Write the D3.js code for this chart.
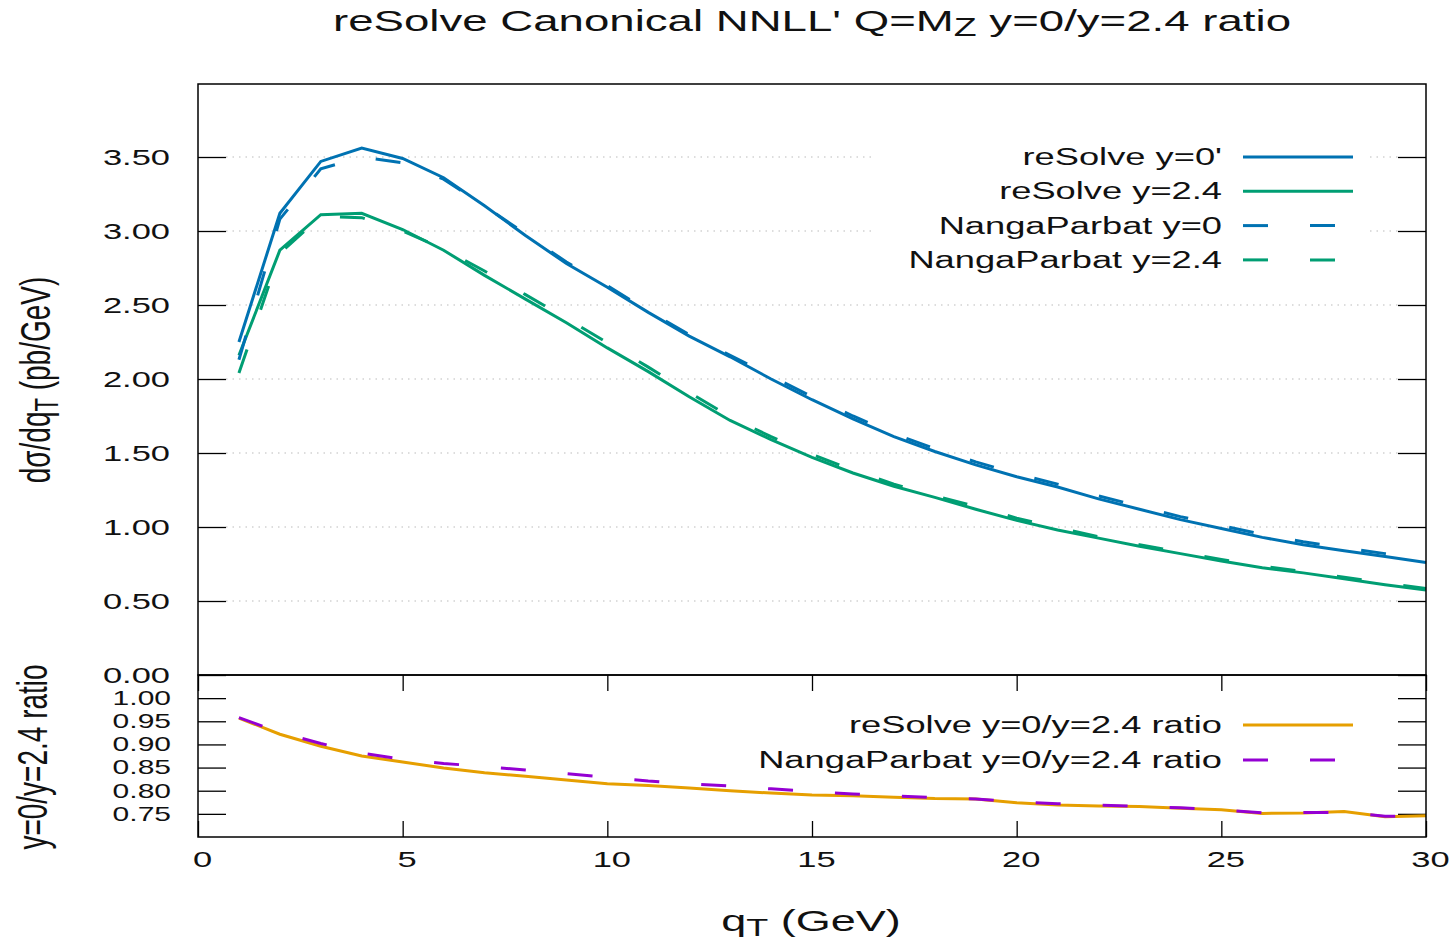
<!DOCTYPE html>
<html>
<head>
<meta charset="utf-8">
<script src="https://cdn.jsdelivr.net/npm/d3@7"></script>
<style>
  body { margin: 0; background: #fff; }
  text { font-family: "Liberation Sans", Arial, sans-serif; fill: #111; }
</style>
</head>
<body>
<div id="chart"></div>
<script>
// qT grid (GeV)
const qT = d3.range(1, 31);

// dσ/dqT (pb/GeV)
const resolveY0 = [2.25, 3.12, 3.47, 3.56, 3.49, 3.36, 3.17, 2.97, 2.78, 2.62,
                   2.45, 2.29, 2.15, 2.00, 1.86, 1.73, 1.61, 1.51, 1.42, 1.34,
                   1.27, 1.19, 1.12, 1.05, 0.99, 0.93, 0.88, 0.84, 0.80, 0.76];
const resolveY24 = [2.16, 2.87, 3.11, 3.12, 3.01, 2.87, 2.70, 2.54, 2.38, 2.21,
                    2.05, 1.88, 1.72, 1.59, 1.47, 1.365, 1.275, 1.20, 1.12, 1.045,
                    0.98, 0.925, 0.87, 0.82, 0.77, 0.725, 0.69, 0.65, 0.61, 0.575];
const npY0 = [2.13, 3.08, 3.42, 3.50, 3.46, 3.35, 3.17, 2.98, 2.79, 2.63,
              2.46, 2.30, 2.16, 2.02, 1.88, 1.75, 1.63, 1.53, 1.44, 1.36,
              1.29, 1.21, 1.14, 1.07, 1.01, 0.95, 0.90, 0.86, 0.82, 0.78];
const npY24 = [2.04, 2.85, 3.10, 3.09, 3.00, 2.88, 2.73, 2.57, 2.41, 2.245,
               2.08, 1.91, 1.745, 1.61, 1.49, 1.385, 1.29, 1.21, 1.14, 1.06,
               0.995, 0.935, 0.88, 0.83, 0.78, 0.735, 0.70, 0.66, 0.62, 0.585];

// y=0 / y=2.4 ratio
const resolveRatio = [0.957, 0.922, 0.896, 0.875, 0.862, 0.849, 0.839, 0.831, 0.823, 0.815,
                      0.811, 0.806, 0.800, 0.795, 0.791, 0.789, 0.786, 0.783, 0.782, 0.774,
                      0.769, 0.767, 0.766, 0.762, 0.759, 0.751, 0.752, 0.755, 0.744, 0.746];
const npRatio = [0.958, 0.926, 0.902, 0.881, 0.868, 0.859, 0.852, 0.845, 0.837, 0.829,
                 0.821, 0.815, 0.810, 0.804, 0.798, 0.793, 0.789, 0.785, 0.782, 0.776,
                 0.772, 0.769, 0.766, 0.763, 0.759, 0.752, 0.753, 0.753, 0.745, 0.745];

const topTicks = [0, 0.5, 1, 1.5, 2, 2.5, 3, 3.5];
const ratioTicks = [0.75, 0.80, 0.85, 0.90, 0.95, 1.00];
const xTicks = [0, 5, 10, 15, 20, 25, 30];

const topSeries = [
  { name: "reSolve y=0'", values: resolveY0, color: "#0072b2", dash: null },
  { name: "reSolve y=2.4", values: resolveY24, color: "#009e73", dash: null },
  { name: "NangaParbat y=0", values: npY0, color: "#0072b2", dash: "25,42" },
  { name: "NangaParbat y=2.4", values: npY24, color: "#009e73", dash: "25,42" }
];
const ratioSeries = [
  { name: "reSolve y=0/y=2.4 ratio", values: resolveRatio, color: "#e69f00", dash: null },
  { name: "NangaParbat y=0/y=2.4 ratio", values: npRatio, color: "#9400d3", dash: "25,42" }
];

const W = 1453, H = 940;
const SX = 1.5; // the reference text is stretched sideways
const L = 198, R = 1426, T = 84, MID = 675, B = 837;

const svg = d3.select("#chart").append("svg")
  .attr("width", W).attr("height", H);
svg.append("rect").attr("width", W).attr("height", H).attr("fill", "#fff");

const x = d3.scaleLinear().domain([0, 30]).range([L, R]);
const yTop = d3.scaleLinear().domain([0, 4]).range([MID, 83]);
const yRat = d3.scaleLinear().domain([0.70, 1.05]).range([B, MID]);

function stretched(g, px, py, anchor, size) {
  return g.append("text")
    .attr("transform", `translate(${px},${py}) scale(${SX},1)`)
    .attr("text-anchor", anchor)
    .attr("font-size", size);
}

// grid in top panel
svg.append("g").selectAll("line")
  .data(topTicks.filter(d => d > 0))
  .enter().append("line")
  .attr("x1", L + 28).attr("x2", R - 28)
  .attr("y1", d => yTop(d)).attr("y2", d => yTop(d))
  .attr("stroke", "#bbb").attr("stroke-width", 1)
  .attr("stroke-dasharray", "1.5,5");

// y axes, top panel
const gTopL = svg.append("g").attr("transform", `translate(${L},0)`)
  .call(d3.axisLeft(yTop).tickValues(topTicks).tickSize(-28).tickFormat(d3.format(".2f")));
gTopL.selectAll(".tick text").attr("x", null)
  .attr("transform", `translate(-28,0) scale(${SX},1)`).attr("font-size", 23);
svg.append("g").attr("transform", `translate(${R},0)`)
  .call(d3.axisRight(yTop).tickValues(topTicks).tickSize(-28).tickFormat(""));

// y axes, ratio panel
const gRatL = svg.append("g").attr("transform", `translate(${L},0)`)
  .call(d3.axisLeft(yRat).tickValues(ratioTicks).tickSize(-28).tickFormat(d3.format(".2f")));
gRatL.selectAll(".tick text").attr("x", null)
  .attr("transform", `translate(-27,0) scale(${SX},1)`).attr("font-size", 20);
svg.append("g").attr("transform", `translate(${R},0)`)
  .call(d3.axisRight(yRat).tickValues(ratioTicks).tickSize(-28).tickFormat(""));

// x axes on the ratio panel
const gXB = svg.append("g").attr("transform", `translate(0,${B})`)
  .call(d3.axisBottom(x).tickValues(xTicks).tickSize(-16).tickFormat(d3.format("d")));
gXB.selectAll(".tick text").attr("y", null).attr("dy", null)
  .attr("transform", `translate(4,30) scale(${SX},1)`).attr("font-size", 23);
svg.append("g").attr("transform", `translate(0,${MID})`)
  .call(d3.axisTop(x).tickValues(xTicks).tickSize(-16).tickFormat(""));

svg.selectAll(".domain").remove();
svg.selectAll(".tick line").attr("stroke", "#000").attr("stroke-width", 1.3);
svg.selectAll(".tick text").attr("font-family", null).attr("fill", "#111");

// curves
const lineTop = d3.line().x((d, i) => x(qT[i])).y(d => yTop(d));
const lineRat = d3.line().x((d, i) => x(qT[i])).y(d => yRat(d));

svg.append("g").selectAll("path")
  .data(topSeries)
  .enter().append("path")
  .attr("d", d => lineTop(d.values))
  .attr("fill", "none")
  .attr("stroke", d => d.color)
  .attr("stroke-width", 3)
  .attr("stroke-dasharray", d => d.dash);

svg.append("g").selectAll("path")
  .data(ratioSeries)
  .enter().append("path")
  .attr("d", d => lineRat(d.values))
  .attr("fill", "none")
  .attr("stroke", d => d.color)
  .attr("stroke-width", 3)
  .attr("stroke-dasharray", d => d.dash);

// legend, top panel (opaque key)
svg.append("rect").attr("x", 872).attr("y", 139).attr("width", 494).attr("height", 137)
  .attr("fill", "#fff");
const legTop = svg.append("g");
topSeries.forEach((s, i) => {
  const ly = 157 + i * 34.3;
  stretched(legTop, 1222, ly + 8, "end", 24.2).text(s.name);
  legTop.append("line").attr("x1", 1243).attr("x2", 1353).attr("y1", ly).attr("y2", ly)
    .attr("stroke", s.color).attr("stroke-width", 3).attr("stroke-dasharray", s.dash);
});

const legRat = svg.append("g");
ratioSeries.forEach((s, i) => {
  const ly = 725 + i * 35;
  stretched(legRat, 1222, ly + 8, "end", 24.2).text(s.name);
  legRat.append("line").attr("x1", 1243).attr("x2", 1353).attr("y1", ly).attr("y2", ly)
    .attr("stroke", s.color).attr("stroke-width", 3).attr("stroke-dasharray", s.dash);
});

// frames
svg.append("rect").attr("x", L).attr("y", T).attr("width", R - L).attr("height", MID - T)
  .attr("fill", "none").attr("stroke", "#000").attr("stroke-width", 1.5);
svg.append("rect").attr("x", L).attr("y", MID).attr("width", R - L).attr("height", B - MID)
  .attr("fill", "none").attr("stroke", "#000").attr("stroke-width", 1.5);

// title
const title = stretched(svg, 812, 31, "middle", 30.4);
title.append("tspan").text("reSolve Canonical NNLL' Q=M");
title.append("tspan").attr("font-size", 25).attr("dy", 5).text("Z");
title.append("tspan").attr("dy", -5).text(" y=0/y=2.4 ratio");

// x label
const xl = stretched(svg, 811, 931, "middle", 30);
xl.append("tspan").text("q");
xl.append("tspan").attr("font-size", 24).attr("dy", 5).text("T");
xl.append("tspan").attr("dy", -5).text(" (GeV)");

// y labels (rotated)
const yl = svg.append("text")
  .attr("transform", `translate(50,380) scale(${SX},1) rotate(-90)`)
  .attr("text-anchor", "middle").attr("font-size", 28);
yl.append("tspan").text("dσ/dq");
yl.append("tspan").attr("font-size", 22).attr("dy", 5).text("T");
yl.append("tspan").attr("dy", -5).text(" (pb/GeV)");

svg.append("text")
  .attr("transform", `translate(47,757) scale(${SX},1) rotate(-90)`)
  .attr("text-anchor", "middle").attr("font-size", 28)
  .text("y=0/y=2.4 ratio");
</script>
</body>
</html>
